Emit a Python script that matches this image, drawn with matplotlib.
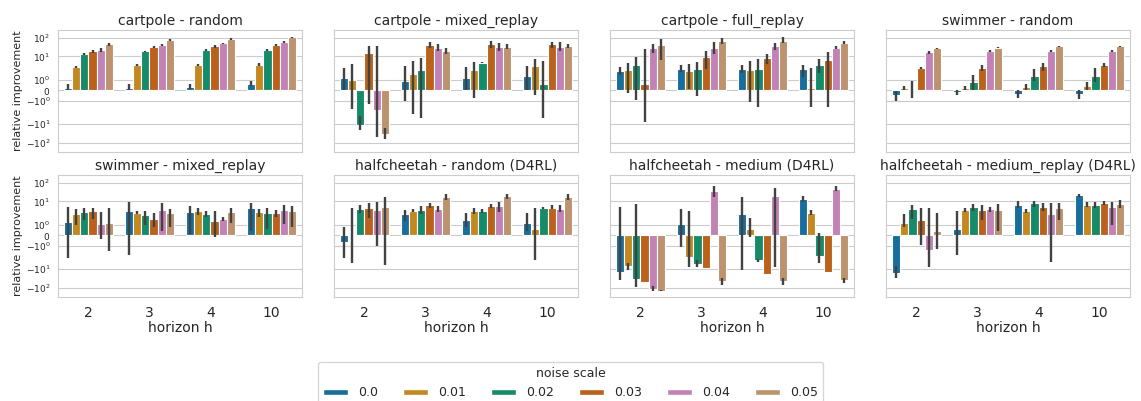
import numpy as np
import seaborn as sns
from matplotlib import pyplot as plt
from matplotlib.patches import Patch

## Data (rows = horizon, cols = noise scale) ##
horizons = ['2', '3', '4', '10']
noise_scales = ['0.0', '0.01', '0.02', '0.03', '0.04', '0.05']
titles = ['cartpole - random', 'cartpole - mixed_replay', 'cartpole - full_replay',
          'swimmer - random', 'swimmer - mixed_replay', 'halfcheetah - random (D4RL)',
          'halfcheetah - medium (D4RL)', 'halfcheetah - medium_replay (D4RL)']

cp_random_mean = [[0.25, 2.6, 13.3, 18.5, 21.8, 45.7],
                  [0.22, 3.4, 18.5, 30.3, 38.8, 78],
                  [0.32, 3.55, 21.8, 34.3, 49.6, 88],
                  [0.64, 3.5, 21.8, 38.8, 61, 104]]
cp_random_lo = [[0.05, 2.3, 12, 15, 17, 38],
                [0.05, 3.0, 16.5, 27, 34, 70],
                [0.1, 3.1, 19.5, 30, 44, 80],
                [0.4, 3.0, 19.5, 34, 55, 95]]
cp_random_hi = [[0.6, 3.0, 15, 23, 27, 55],
                [0.6, 4.0, 20.5, 34, 44, 87],
                [0.6, 4.0, 24, 39, 55, 97],
                [0.9, 4.3, 24, 44, 68, 115]]

cp_mixed_mean = [[1.16, 0.97, -11.2, 15, -1.93, -35.9],
                 [0.9, 1.55, 1.93, 42, 30, 20],
                 [1.16, 1.93, 4.55, 45, 33, 33],
                 [1.39, 3.14, 0.64, 45, 33, 37]]
cp_mixed_lo = [[0.0, -1.8, -21.8, -1.3, -50, -66],
               [-1.03, -2.77, -4.9, 30, 20, 13],
               [0.0, -0.77, 4.2, 28, 20, 25],
               [0.0, -0.45, -4.6, 30, 20, 30]]
cp_mixed_hi = [[2.35, 3.9, -3.7, 37, 37, -16],
               [2.88, 5.4, 8.1, 56, 45, 30],
               [2.6, 4.9, 5.3, 69, 50, 45],
               [2.9, 7.2, 5.4, 60, 56, 45]]

cp_full_mean = [[1.87, 1.96, 3.5, 0.61, 27, 42],
                [2.08, 1.87, 2.08, 9.5, 30, 63],
                [2.1, 1.96, 2.2, 8.4, 34, 69],
                [2.1, 0.19, 3.5, 6.6, 30, 54]]
cp_full_lo = [[1.48, -0.32, -0.97, -7.5, 15, 6.3],
              [1.8, 0.1, -0.61, 2.1, 13, 45],
              [1.7, -1.19, -1.61, 3.9, 23, 50],
              [1.3, -1.61, 1.7, -1.61, 25, 45]]
cp_full_hi = [[2.56, 4.7, 8.8, 24.6, 45, 85],
              [3.4, 3.9, 5.2, 20, 56, 95],
              [3.6, 5.4, 7.2, 13.3, 50, 104],
              [3.6, 2.26, 7.2, 16.3, 37, 69]]

sw_random_mean = [[-0.48, 0.19, 0.05, 2.26, 16.3, 26.8],
                  [-0.16, 0.19, 0.74, 2.26, 18.5, 30],
                  [-0.39, 0.32, 1.39, 2.89, 20, 34],
                  [-0.39, 0.42, 1.39, 3.5, 20, 34]]
sw_random_lo = [[-1.03, 0.0, -0.71, 2.1, 14, 24],
                [-0.48, 0.0, 0.0, 1.87, 16.5, 28],
                [-0.71, 0.0, 0.9, 1.87, 18, 32],
                [-0.87, 0.0, 0.74, 2.56, 18, 31]]
sw_random_hi = [[-0.07, 0.42, 0.9, 2.6, 19, 30],
                [0.0, 0.42, 1.48, 3.5, 21, 33],
                [0.0, 0.58, 2.0, 4.7, 23, 37],
                [0.0, 0.81, 2.3, 4.7, 23, 38]]

sw_mixed_mean = [[1.29, 2.08, 2.56, 3.0, 1.03, 1.19],
                 [3.0, 2.26, 1.93, 1.55, 3.4, 2.4],
                 [2.77, 3.0, 2.08, 1.39, 1.55, 2.77],
                 [4.2, 2.56, 2.26, 2.26, 3.4, 3.0]]
sw_mixed_lo = [[-2.46, 0.97, 1.45, 1.55, -0.42, -1.52],
               [-1.87, 2.0, 0.97, 0.74, 0.42, 0.8],
               [0.1, 1.93, 1.77, -0.16, 1.39, 1.13],
               [0.39, 1.77, 0.55, 1.77, 1.06, 0.8]]
sw_mixed_hi = [[5.2, 3.7, 4.4, 4.6, 2.77, 4.2],
               [8.8, 3.0, 3.0, 2.5, 7.7, 3.8],
               [5.8, 4.2, 3.0, 3.0, 1.77, 4.6],
               [7.9, 3.7, 4.6, 3.4, 6.8, 5.8]]

hc_random_mean = [[-0.64, -0.1, 3.7, 4.2, 3.4, 5.2],
                  [2.08, 3.0, 3.4, 6.3, 3.8, 16.3],
                  [1.45, 3.0, 3.0, 5.7, 5.7, 19.3],
                  [1.22, 0.64, 4.6, 4.6, 3.8, 16.3]]
hc_random_lo = [[-2.46, -4.7, 2.26, 1.7, -1.06, -6.3],
                [1.39, 2.56, 2.08, 4.6, 2.56, 11.7],
                [0.81, 2.0, 2.3, 4.2, 2.56, 14],
                [0.39, -3.14, 4.0, 3.7, 2.56, 11.7]]
hc_random_hi = [[0.81, 4.2, 6.3, 7.9, 9.5, 17.7],
                [3.4, 3.7, 5.7, 7.9, 5.7, 24.7],
                [2.4, 4.6, 3.7, 7.5, 9.5, 26],
                [2.4, 4.6, 5.2, 6.3, 6.3, 24.7]]

hc_medium_mean = [[-14.5, -6.9, -33, -50, -113, -151],
                  [1.06, -2.26, -5.2, -9.5, 37, -46],
                  [2.08, 0.64, -3.4, -19.3, 19.3, -46],
                  [12.8, 2.4, -2.0, -14.5, 44, -37]]
hc_medium_lo = [[-37, -11.7, -92, -50, -150, -160],
                [-1.19, -8.4, -8.4, -9.5, 18, -75],
                [-11.7, -0.22, -4.2, -19.3, -7.5, -75],
                [9.5, 1.93, -4.7, -14.5, 37, -60]]
hc_medium_hi = [[4.7, -4.6, 7.2, -50, -80, -140],
                [3.7, 3.14, -3.3, -9.5, 66, -32],
                [17.7, 1.61, -2.9, -19.3, 49.6, -32],
                [19.3, 3.4, 0.22, -14.5, 66, -32]]

hc_mreplay_mean = [[-16.3, 1.19, 3.7, 1.45, -1.39, 0.42],
                   [0.55, 3.4, 5.2, 3.4, 3.7, 3.4],
                   [6.3, 3.0, 7.7, 5.2, 2.0, 4.4],
                   [21.8, 6.8, 6.3, 7.9, 5.2, 6.9]]
hc_mreplay_lo = [[-30, 0.81, 1.6, -0.97, -7.8, -1.35],
                 [-1.93, 2.8, 3.1, 1.45, 2.8, 0.42],
                 [4.4, 2.4, 5.2, 3.1, -4.2, 1.45],
                 [18, 5.2, 4.4, 6.3, 0.97, 4.4]]
hc_mreplay_hi = [[-7.2, 2.2, 6.8, 4.2, 4.4, 2.4],
                 [3.1, 4.2, 7.6, 6.3, 5.2, 7.6],
                 [10, 3.7, 11, 7.7, 8.2, 7.7],
                 [26, 8.8, 9.5, 10, 9.5, 11.7]]

means = [cp_random_mean, cp_mixed_mean, cp_full_mean, sw_random_mean,
         sw_mixed_mean, hc_random_mean, hc_medium_mean, hc_mreplay_mean]
lows = [cp_random_lo, cp_mixed_lo, cp_full_lo, sw_random_lo,
        sw_mixed_lo, hc_random_lo, hc_medium_lo, hc_mreplay_lo]
highs = [cp_random_hi, cp_mixed_hi, cp_full_hi, sw_random_hi,
         sw_mixed_hi, hc_random_hi, hc_medium_hi, hc_mreplay_hi]

## Plotting ##
sns.set_style('whitegrid')
plt.rcParams['font.family'] = ['DejaVu Sans']
colors = sns.color_palette('colorblind', 6, desat=0.75)

fig, axes = plt.subplots(2, 4, figsize=(11.41, 4.01), dpi=100, sharey=True, sharex=True)
plt.subplots_adjust(left=0.0508, right=0.9904, top=0.925, bottom=0.2594,
                    wspace=0.131, hspace=0.189)

n_hue = len(noise_scales)
bar_w = 0.8 / n_hue
x = np.arange(len(horizons))

for k, ax in enumerate(axes.flat):
    m = np.array(means[k])
    lo = np.array(lows[k])
    hi = np.array(highs[k])
    for j in range(n_hue):
        xs = x + (j - (n_hue - 1) / 2) * bar_w
        ax.bar(xs, m[:, j], width=bar_w, color=colors[j], edgecolor='white', linewidth=0.8)
        ax.vlines(xs, lo[:, j], hi[:, j], color='#424242', linewidth=1.7, zorder=3)
    ax.set_yscale('symlog', linthresh=2)
    ax.set_yticks([-100, -10, -1, 0, 1, 10, 100])
    ax.set_ylim(-320, 258)
    ax.set_xlim(-0.5, 3.5)
    ax.set_xticks(x)
    ax.set_xticklabels(horizons)
    ax.set_title(titles[k], fontsize=10, pad=4)
    ax.grid(axis='x', visible=False)
    ax.tick_params(axis='y', labelsize=6.5, pad=2)
    ax.tick_params(axis='x', labelsize=10, pad=3)
    for s in ax.spines.values():
        s.set_color('#cccccc')
    if k % 4 == 0:
        ax.set_ylabel('relative improvement', fontsize=8, labelpad=2)
    if k >= 4:
        ax.set_xlabel('horizon h', fontsize=10, labelpad=1)

handles = [Patch(facecolor=colors[j], edgecolor='white') for j in range(n_hue)]
fig.legend(handles, noise_scales, title='noise scale', loc='upper center',
           bbox_to_anchor=(0.5, 0.113), ncol=6, fontsize=9, title_fontsize=9,
           handleheight=0.35, frameon=True)

plt.savefig('out.png', dpi=100)
